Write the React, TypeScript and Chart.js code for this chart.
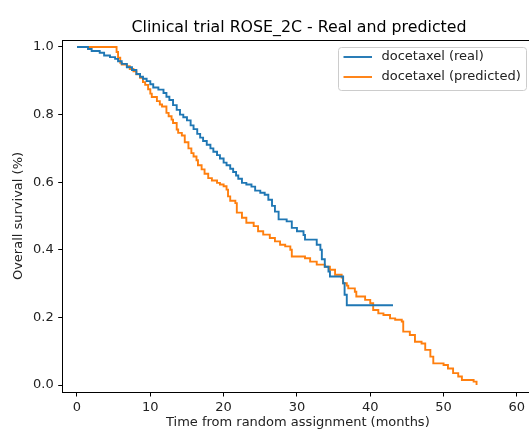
import React, { useEffect, useRef } from "react";
import { Chart, registerables } from "chart.js";

Chart.register(...registerables);

const TITLE = "Clinical trial ROSE_2C - Real and predicted";
const X_LABEL = "Time from random assignment (months)";
const Y_LABEL = "Overall survival (%)";
const SERIES_NAMES = ["docetaxel (real)", "docetaxel (predicted)"];
const X_TICKS = [0, 10, 20, 30, 40, 50, 60];
const Y_TICKS = [0, 0.2, 0.4, 0.6, 0.8, 1.0];

const REAL_T = [
  0, 1.5, 2.0, 3.1, 3.7, 4.5, 5.2, 5.6, 6.1, 6.8, 7.5, 8.1, 8.6, 9.0, 9.5, 10.0,
  10.4, 11.1, 11.8, 12.2, 12.6, 13.1, 13.6, 14.05, 14.5, 15.0, 15.5, 15.9, 16.4,
  16.8, 17.2, 17.7, 18.2, 18.6, 19.1, 19.5, 20.0, 20.4, 20.9, 21.3, 21.7, 22.0,
  22.5, 23.1, 23.8, 24.3, 25.0, 25.6, 26.1, 26.6, 27.0, 27.5, 28.6, 29.3, 30.0,
  30.9, 31.1, 32.7, 33.2, 33.4, 33.8, 34.3, 34.5, 36.3, 36.5, 36.8, 43.1,
];
const REAL_S = [
  1.0, 0.994, 0.988, 0.983, 0.975, 0.97, 0.965, 0.958, 0.95, 0.94, 0.932, 0.92,
  0.912, 0.906, 0.899, 0.89, 0.88, 0.874, 0.864, 0.853, 0.843, 0.828, 0.814, 0.8,
  0.792, 0.783, 0.768, 0.757, 0.743, 0.732, 0.722, 0.711, 0.7, 0.69, 0.68, 0.67,
  0.658, 0.65, 0.64, 0.63, 0.62, 0.61, 0.598, 0.593, 0.587, 0.575, 0.569, 0.563,
  0.548, 0.53, 0.513, 0.49, 0.484, 0.465, 0.455, 0.444, 0.43, 0.415, 0.4, 0.372,
  0.35, 0.336, 0.321, 0.301, 0.267, 0.236, 0.236,
];

const PRED_T = [
  0, 5.2, 5.4, 5.6, 5.9, 6.1, 6.8, 7.2, 7.7, 8.1, 8.6, 9.0, 9.3, 9.7, 10.0, 10.2,
  10.9, 11.3, 11.6, 12.2, 12.5, 12.9, 13.1, 13.6, 13.8, 14.3, 14.7, 15.2, 15.6,
  15.9, 16.3, 16.5, 17.0, 17.4, 17.9, 18.4, 19.1, 19.5, 20.0, 20.4, 20.6, 20.9,
  21.6, 21.8, 22.5, 23.1, 24.1, 24.7, 25.4, 26.3, 27.0, 27.7, 28.4, 29.1, 29.3,
  31.1, 31.8, 32.7, 33.8, 34.5, 35.2, 36.1, 36.3, 36.8, 37.0, 37.9, 38.1, 39.3,
  40.0, 40.4, 41.1, 41.8, 42.7, 43.4, 44.3, 44.5, 45.4, 46.1, 47.0, 47.5, 48.2,
  48.6, 50.0, 50.6, 51.3, 52.0, 52.5, 54.1, 54.5,
];
const PRED_S = [
  1.0, 1.0, 0.985, 0.968, 0.953, 0.948, 0.943, 0.935, 0.928, 0.919, 0.909, 0.896,
  0.888, 0.875, 0.862, 0.852, 0.84, 0.83, 0.824, 0.805, 0.795, 0.785, 0.775,
  0.756, 0.746, 0.738, 0.718, 0.7, 0.686, 0.676, 0.665, 0.65, 0.638, 0.625, 0.612,
  0.605, 0.598, 0.593, 0.588, 0.578, 0.558, 0.545, 0.538, 0.51, 0.495, 0.48, 0.47,
  0.455, 0.445, 0.435, 0.425, 0.415, 0.41, 0.4, 0.38, 0.375, 0.365, 0.356, 0.35,
  0.341, 0.326, 0.318, 0.301, 0.294, 0.286, 0.276, 0.262, 0.252, 0.242, 0.222,
  0.212, 0.207, 0.197, 0.193, 0.188, 0.158, 0.148, 0.128, 0.123, 0.104, 0.084,
  0.064, 0.059, 0.049, 0.035, 0.025, 0.015, 0.01, 0.0,
];

const COLORS = ["#1f77b4", "#ff7f0e"];
const FONT = "'DejaVu Sans', sans-serif";

const overlayPlugin = {
  id: "mplOverlay",
  afterDraw(chart: any) {
    const { ctx, chartArea } = chart;
    ctx.save();
    // keep the cropped right side of the axes box blank
    ctx.fillStyle = "#fff";
    ctx.fillRect(527, Math.round(chartArea.top) + 1, chart.width - 527, Math.round(chartArea.bottom) - Math.round(chartArea.top) - 1);

    // top spine
    ctx.strokeStyle = "#000";
    ctx.lineWidth = 1;
    ctx.beginPath();
    ctx.moveTo(Math.round(chartArea.left) - 0.5, Math.round(chartArea.top) + 0.5);
    ctx.lineTo(chart.width, Math.round(chartArea.top) + 0.5);
    ctx.stroke();

    // title
    ctx.fillStyle = "#000";
    ctx.font = `15.8px ${FONT}`;
    ctx.textAlign = "center";
    ctx.textBaseline = "alphabetic";
    ctx.fillText(TITLE, 299, 32);

    // legend
    const bx = 338.5, by = 47.5, bw = 188, bh = 43, r = 3;
    ctx.beginPath();
    ctx.moveTo(bx + r, by);
    ctx.lineTo(bx + bw - r, by);
    ctx.arcTo(bx + bw, by, bx + bw, by + r, r);
    ctx.lineTo(bx + bw, by + bh - r);
    ctx.arcTo(bx + bw, by + bh, bx + bw - r, by + bh, r);
    ctx.lineTo(bx + r, by + bh);
    ctx.arcTo(bx, by + bh, bx, by + bh - r, r);
    ctx.lineTo(bx, by + r);
    ctx.arcTo(bx, by, bx + r, by, r);
    ctx.closePath();
    ctx.fillStyle = "rgba(255,255,255,0.8)";
    ctx.fill();
    ctx.strokeStyle = "#cccccc";
    ctx.lineWidth = 1;
    ctx.stroke();

    const rows = [57, 77];
    ctx.font = `13px ${FONT}`;
    ctx.textAlign = "left";
    ctx.textBaseline = "middle";
    SERIES_NAMES.forEach((name, i) => {
      ctx.strokeStyle = COLORS[i];
      ctx.lineWidth = 1.9;
      ctx.beginPath();
      ctx.moveTo(343.5, rows[i]);
      ctx.lineTo(372, rows[i]);
      ctx.stroke();
      ctx.fillStyle = "#222";
      ctx.fillText(name, 381.5, rows[i]);
    });
    ctx.restore();
  },
};

export default function App() {
  const ref = useRef<HTMLCanvasElement>(null);

  useEffect(() => {
    if (!ref.current) return;
    const real = REAL_T.map((t, i) => ({ x: t, y: REAL_S[i] }));
    const pred = PRED_T.map((t, i) => ({ x: t, y: PRED_S[i] }));
    const chart = new Chart(ref.current, {
      type: "line",
      data: {
        datasets: [
          {
            label: SERIES_NAMES[0],
            data: real,
            borderColor: COLORS[0],
            borderWidth: 1.9,
            pointRadius: 0,
            stepped: true,
            fill: false,
          },
          {
            label: SERIES_NAMES[1],
            data: pred,
            borderColor: COLORS[1],
            borderWidth: 1.9,
            pointRadius: 0,
            stepped: true,
            fill: false,
          },
        ],
      },
      options: {
        animation: false,
        responsive: false,
        devicePixelRatio: 1,
        layout: { padding: { top: 40, right: 27, left: 0, bottom: 0 } },
        plugins: {
          legend: { display: false },
          title: { display: false },
          tooltip: { enabled: false },
        },
        scales: {
          x: {
            type: "linear",
            min: -1.95,
            max: 62.2,
            afterBuildTicks: (s: any) => {
              s.ticks = X_TICKS.map((v) => ({ value: v }));
            },
            afterFit: (s: any) => {
              s.height = 41;
            },
            grid: {
              drawOnChartArea: false,
              drawTicks: true,
              tickLength: 4.5,
              tickColor: "#000",
              tickWidth: 1,
            },
            border: { display: true, color: "#000", width: 1 },
            ticks: {
              color: "#222",
              font: { family: FONT, size: 13 },
              padding: 3.2,
              maxRotation: 0,
              autoSkip: false,
              callback: (v: any) => String(v),
            },
            title: {
              display: true,
              text: X_LABEL,
              color: "#222",
              font: { family: FONT, size: 13 },
              padding: { top: 0, bottom: 2.5 },
            },
          },
          y: {
            type: "linear",
            min: -0.0207,
            max: 1.0207,
            afterBuildTicks: (s: any) => {
              s.ticks = Y_TICKS.map((v) => ({ value: v }));
            },
            afterFit: (s: any) => {
              s.width = 62.7;
            },
            grid: {
              drawOnChartArea: false,
              drawTicks: true,
              tickLength: 4.5,
              tickColor: "#000",
              tickWidth: 1,
            },
            border: { display: true, color: "#000", width: 1 },
            ticks: {
              color: "#222",
              font: { family: FONT, size: 13 },
              padding: 4.5,
              autoSkip: false,
              callback: (v: any) => Number(v).toFixed(1),
            },
            title: {
              display: true,
              text: Y_LABEL,
              color: "#222",
              font: { family: FONT, size: 13 },
              padding: { top: 11, bottom: 0 },
            },
          },
        },
      },
      plugins: [overlayPlugin],
    });
    return () => chart.destroy();
  }, []);

  return (
    <div
      style={{
        position: "fixed",
        top: 0,
        left: 0,
        width: 529,
        height: 433,
        overflow: "hidden",
        background: "#fff",
      }}
    >
      <canvas ref={ref} width={560} height={433} style={{ display: "block" }} />
    </div>
  );
}
